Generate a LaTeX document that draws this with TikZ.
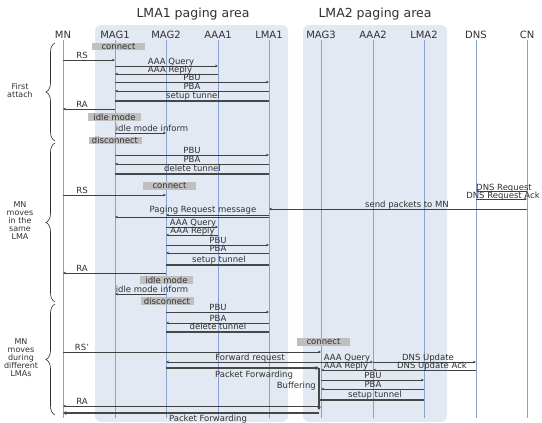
\documentclass[tikz,border=0pt]{standalone}
\usepackage{fontspec}
\setmainfont{DejaVu Sans}
\usetikzlibrary{arrows.meta,decorations.pathreplacing}
\definecolor{lifeblue}{HTML}{86A3D2}
\definecolor{areabg}{HTML}{E2E9F3}
\definecolor{boxgray}{HTML}{BFBFBF}
\definecolor{msgcol}{HTML}{404040}
\definecolor{tuncol}{HTML}{474747}
\definecolor{textcol}{HTML}{303030}
\newcommand\mymsg[5]{\draw[msg] (#1 |- 0,#3) -- (#2 |- 0,#3); \node[lbl] at (#5,#3-1.3) {#4};}
\begin{document}
\begin{tikzpicture}[x=1pt,y=-1pt,
 life/.style={draw=lifeblue, line width=0.8pt},
 msg/.style={draw=msgcol, line width=0.6pt, -{Stealth[length=3pt,width=2.6pt]}},
 tun/.style={draw=tuncol, line width=1.9pt},
 tuna/.style={tun, -{Stealth[length=3.5pt,width=4pt]}},
 lbl/.style={font=\fontsize{8.5}{8.5}\selectfont, inner sep=0pt, anchor=base, text=textcol},
 hdr/.style={font=\fontsize{10}{10}\selectfont, inner sep=0pt, text=textcol},
 ttl/.style={font=\fontsize{12.5}{14}\selectfont, inner sep=0pt, text=textcol},
 statebox/.style={fill=boxgray, minimum width=53pt, minimum height=7.5pt, inner sep=0pt, font=\fontsize{8.5}{8.5}\selectfont, text=textcol},
 phase/.style={font=\fontsize{8}{8}\selectfont, align=center, text=textcol, inner sep=0pt},
 brc/.style={draw=textcol, line width=0.6pt, decorate, decoration={brace, amplitude=9pt}}
]
\useasboundingbox (0,0) rectangle (542,423);
% paging areas
\fill[areabg, rounded corners=6pt] (95,25) rectangle (288,422);
\fill[areabg, rounded corners=6pt] (303,25) rectangle (447,422);
\node[ttl] (t1) at (193,14) {LMA1 paging area};
\node[ttl] (t2) at (375,14) {LMA2 paging area};
% headers
\foreach \n/\x in {MN/63,MAG1/115,MAG2/166,AAA1/218,LMA1/269,MAG3/321,AAA2/373,LMA2/424,DNS/476,CN/527}{
  \node[hdr] (\n) at (\x,35) {\n};
  \draw[life] (\n |- 0,40) -- (\n |- 0,418);
}
% braces
\draw[brc] (55,141) -- (55,43);
\draw[brc] (55,302) -- (55,143);
\draw[brc] (55,415) -- (55,304);
\node[phase] (p1) at (20,91) {First\\attach};
\node[phase] (p2) at (20,221) {MN\\moves\\in the\\same\\LMA};
\node[phase] (p3) at (21,358) {MN\\moves\\during\\different\\LMAs};
% first attach
\node[statebox] (conn1) at (118.5,46.5) {connect};
\mymsg{MN}{MAG1}{60}{RS}{82}
\mymsg{MAG1}{AAA1}{66}{AAA Query}{171}
\mymsg{AAA1}{MAG1}{74}{AAA Reply}{170}
\mymsg{MAG1}{LMA1}{82}{PBU}{192}
\mymsg{LMA1}{MAG1}{91}{PBA}{192}
\draw[tun] (MAG1 |- 0,101) -- (LMA1 |- 0,101);
\node[lbl] at (193,98) {setup tunnel};
\mymsg{MAG1}{MN}{109}{RA}{82}
\node[statebox] (idle1) at (114.5,117) {idle mode};
\mymsg{MAG1}{MAG2}{133}{idle mode inform}{152}
\node[statebox] (disc1) at (115,140.5) {disconnect};
\mymsg{MAG1}{LMA1}{155}{PBU}{192}
\mymsg{LMA1}{MAG1}{164}{PBA}{192}
\draw[tun] (MAG1 |- 0,174) -- (LMA1 |- 0,174);
\node[lbl] at (192.5,171) {delete tunnel};
% moves in same LMA
\node[statebox] (conn2) at (169.5,186) {connect};
\mymsg{MN}{MAG2}{195}{RS}{82}
\draw[msg] (CN |- 0,191) -- (DNS |- 0,191);
\node[lbl] at (504,190) {DNS Request};
\draw[msg] (DNS |- 0,199) -- (CN |- 0,199);
\node[lbl] at (503,198) {DNS Request Ack};
\mymsg{CN}{LMA1}{209}{send packets to MN}{407}
\draw[msg] (LMA1 |- 0,215) -- (MAG2 |- 0,215);
\draw[msg] (LMA1 |- 0,217) -- (MAG1 |- 0,217);
\node[lbl] at (203,212) {Paging Request message};
\mymsg{MAG2}{AAA1}{227}{AAA Query}{193}
\mymsg{AAA1}{MAG2}{235}{AAA Reply}{192.5}
\mymsg{MAG2}{LMA1}{245}{PBU}{218}
\mymsg{LMA1}{MAG2}{253}{PBA}{218}
\draw[tun] (MAG2 |- 0,265) -- (LMA1 |- 0,265);
\node[lbl] at (219,262) {setup tunnel};
\mymsg{MAG2}{MN}{273}{RA}{82}
\node[statebox] (idle2) at (166.5,280) {idle mode};
\mymsg{MAG2}{MAG1}{294}{idle mode inform}{152}
\node[statebox] (disc2) at (167,301) {disconnect};
\mymsg{MAG2}{LMA1}{312}{PBU}{218}
\mymsg{LMA1}{MAG2}{323}{PBA}{218}
\draw[tun] (MAG2 |- 0,332) -- (LMA1 |- 0,332);
\node[lbl] at (218,329) {delete tunnel};
% moves during different LMAs
\node[statebox] (conn3) at (323.5,342) {connect};
\mymsg{MN}{MAG3}{352}{RS'}{82}
\mymsg{MAG3}{MAG2}{362}{Forward request}{250}
\mymsg{MAG3}{AAA2}{362}{AAA Query}{347}
\mymsg{AAA2}{DNS}{362}{DNS Update}{428}
\coordinate (bufTop) at (319,368);
\coordinate (bufBot) at (319,410);
\draw[tuna] (MAG2 |- 0,368) -- (bufTop);
\node[lbl] at (254,377) {Packet Forwarding};
\mymsg{AAA2}{MAG3}{370}{AAA Reply}{346}
\mymsg{DNS}{AAA2}{370}{DNS Update Ack}{432}
\draw[tuna] (bufTop) -- (bufBot);
\node[lbl, anchor=base east] at (316,388) {Buffering};
\mymsg{MAG3}{LMA2}{380}{PBU}{373}
\mymsg{LMA2}{MAG3}{389}{PBA}{373}
\draw[tun] (bufTop |- 0,400) -- (LMA2 |- 0,400);
\node[lbl] at (375,397) {setup tunnel};
\draw[msg] (bufTop |- 0,406) -- (MN |- 0,406);
\node[lbl] at (82,404.5) {RA};
\draw[tuna] (bufBot |- 0,413) -- (MN |- 0,413);
\node[lbl] at (208,421) {Packet Forwarding};
\end{tikzpicture}
\end{document}
